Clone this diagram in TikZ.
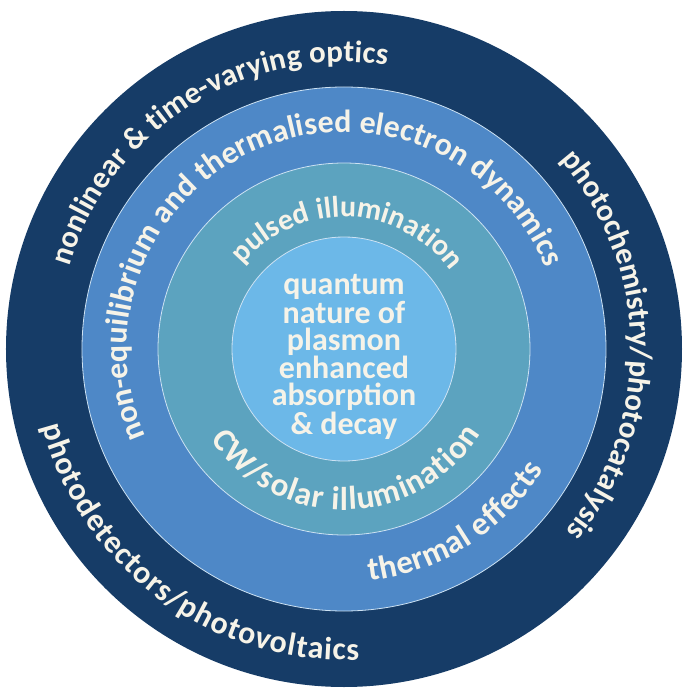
\documentclass[tikz,border=0pt]{standalone}
\usepackage{fontspec}
\setmainfont{Carlito}
\usetikzlibrary{decorations.text}
\definecolor{navy}{RGB}{22,60,103}
\definecolor{midblue}{RGB}{78,136,199}
\definecolor{tealblue}{RGB}{92,163,191}
\definecolor{skyblue}{RGB}{108,184,232}
\definecolor{cream}{RGB}{246,243,232}
\definecolor{rimline}{RGB}{205,226,243}
\tikzset{
  ringtext/.style 2 args={decorate, decoration={text along path, text align=fit to path,
    text color=cream, text={|\fontsize{#1}{#1}\selectfont\bfseries|#2}}}
}
\begin{document}
\begin{tikzpicture}[x=1pt,y=1pt]
            \def\rout{338}
            \def\rmid{262}
            \def\rin{186}
            \def\rcore{112}
            \useasboundingbox (-344,-350) rectangle (350,349);
            \coordinate (Center) at (0, 0);
            \fill[navy] (Center) circle (\rout);
            \fill[midblue] (Center) circle (\rmid);
            \draw[rimline, line width=0.8pt] (Center) circle (\rmid);
            \fill[tealblue] (Center) circle (\rin);
            \draw[rimline, line width=0.8pt] (Center) circle (\rin);
            \fill[skyblue] (Center) circle (\rcore);
            \draw[rimline, line width=0.8pt] (Center) circle (\rcore);
            % outer ring
            \path[ringtext={31}{nonlinear {\&} time-varying optics}] (Center) ++(163.3:287) arc[start angle=163.3, end angle=81.4, radius=287];
            \path[ringtext={31}{photochemistry/photocatalysis}] (Center) ++(41.2:287) arc[start angle=41.2, end angle=-38.9, radius=287];
            \path[ringtext={32}{photodetectors/photovoltaics}] (Center) ++(194.5:311) arc[start angle=194.5, end angle=272.8, radius=311];
            % middle ring
            \path[ringtext={32}{non-equilibrium and thermalised electron dynamics}] (Center) ++(203.9:217) arc[start angle=203.9, end angle=23.6, radius=217];
            \path[ringtext={33}{thermal effects}] (Center) ++(-83.6:233) arc[start angle=-83.6, end angle=-31.1, radius=233];
            % inner ring
            \path[ringtext={30}{pulsed illumination}] (Center) ++(140.3:132) arc[start angle=140.3, end angle=39.4, radius=132];
            \path[ringtext={33}{CW/solar illumination}] (Center) ++(214:161) arc[start angle=214, end angle=328, radius=161];
            \node[text=cream, font=\fontsize{32}{27}\selectfont\bfseries, align=center] (Core) at (0, -8) {quantum\\nature of\\plasmon\\enhanced\\absorption\\\& decay};
        \end{tikzpicture}
\end{document}
